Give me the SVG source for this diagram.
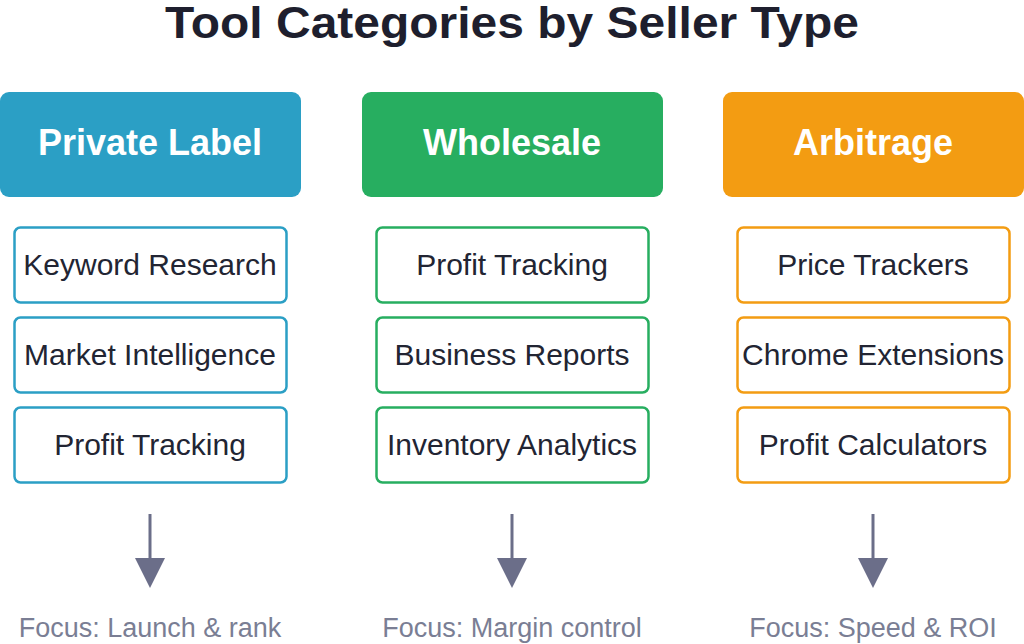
<svg xmlns="http://www.w3.org/2000/svg" width="1024" height="644" viewBox="0 0 1024 644">
<defs>
<style>
.title{font-family:"Liberation Sans",Arial,sans-serif;font-weight:bold;font-size:44px;fill:#1e1f2e;text-anchor:middle}
.hdr{font-family:"Liberation Sans",Arial,sans-serif;font-weight:bold;font-size:36px;fill:#ffffff;text-anchor:middle}
.item{font-family:"Liberation Sans",Arial,sans-serif;font-size:30px;fill:#222533;text-anchor:middle}
.focus{font-family:"Liberation Sans",Arial,sans-serif;font-size:27px;fill:#7a7e94;text-anchor:middle}
.box{fill:#ffffff;stroke-width:2.5}
.b{stroke:#2b9fc5}.g{stroke:#27ae60}.o{stroke:#f39c12}
.arr{stroke:#6b6e89;stroke-width:3;fill:none}
.head{fill:#6b6e89}
</style>
</defs>
<rect width="1024" height="644" fill="#ffffff"/>
<text class="title" x="512" y="38" textLength="694" lengthAdjust="spacingAndGlyphs">Tool Categories by Seller Type</text>

<g id="private-label">
<rect x="0" y="92" width="301" height="105" rx="9" fill="#2b9fc5"/>
<text class="hdr" x="150" y="155">Private Label</text>
<rect class="box b" x="14.5" y="227.5" width="272" height="75" rx="6"/>
<text class="item" x="150" y="275">Keyword Research</text>
<rect class="box b" x="14.5" y="317.5" width="272" height="75" rx="6"/>
<text class="item" x="150" y="365">Market Intelligence</text>
<rect class="box b" x="14.5" y="407.5" width="272" height="75" rx="6"/>
<text class="item" x="150" y="455">Profit Tracking</text>
<text class="focus" x="150" y="637">Focus: Launch &amp; rank</text>
</g>

<g id="wholesale">
<rect x="362" y="92" width="301" height="105" rx="9" fill="#27ae60"/>
<text class="hdr" x="512" y="155">Wholesale</text>
<rect class="box g" x="376.5" y="227.5" width="272" height="75" rx="6"/>
<text class="item" x="512" y="275">Profit Tracking</text>
<rect class="box g" x="376.5" y="317.5" width="272" height="75" rx="6"/>
<text class="item" x="512" y="365">Business Reports</text>
<rect class="box g" x="376.5" y="407.5" width="272" height="75" rx="6"/>
<text class="item" x="512" y="455">Inventory Analytics</text>
<text class="focus" x="512" y="637">Focus: Margin control</text>
</g>

<g id="arbitrage">
<rect x="723" y="92" width="301" height="105" rx="9" fill="#f39c12"/>
<text class="hdr" x="873" y="155">Arbitrage</text>
<rect class="box o" x="737.5" y="227.5" width="272" height="75" rx="6"/>
<text class="item" x="873" y="275">Price Trackers</text>
<rect class="box o" x="737.5" y="317.5" width="272" height="75" rx="6"/>
<text class="item" x="873" y="365">Chrome Extensions</text>
<rect class="box o" x="737.5" y="407.5" width="272" height="75" rx="6"/>
<text class="item" x="873" y="455">Profit Calculators</text>
<text class="focus" x="873" y="637">Focus: Speed &amp; ROI</text>
</g>

<g id="connectors">
<line class="arr" x1="150" y1="514" x2="150" y2="560"/>
<polygon class="head" points="135,558 165,558 150,588"/>
<line class="arr" x1="512" y1="514" x2="512" y2="560"/>
<polygon class="head" points="497,558 527,558 512,588"/>
<line class="arr" x1="873" y1="514" x2="873" y2="560"/>
<polygon class="head" points="858,558 888,558 873,588"/>
</g>
</svg>
